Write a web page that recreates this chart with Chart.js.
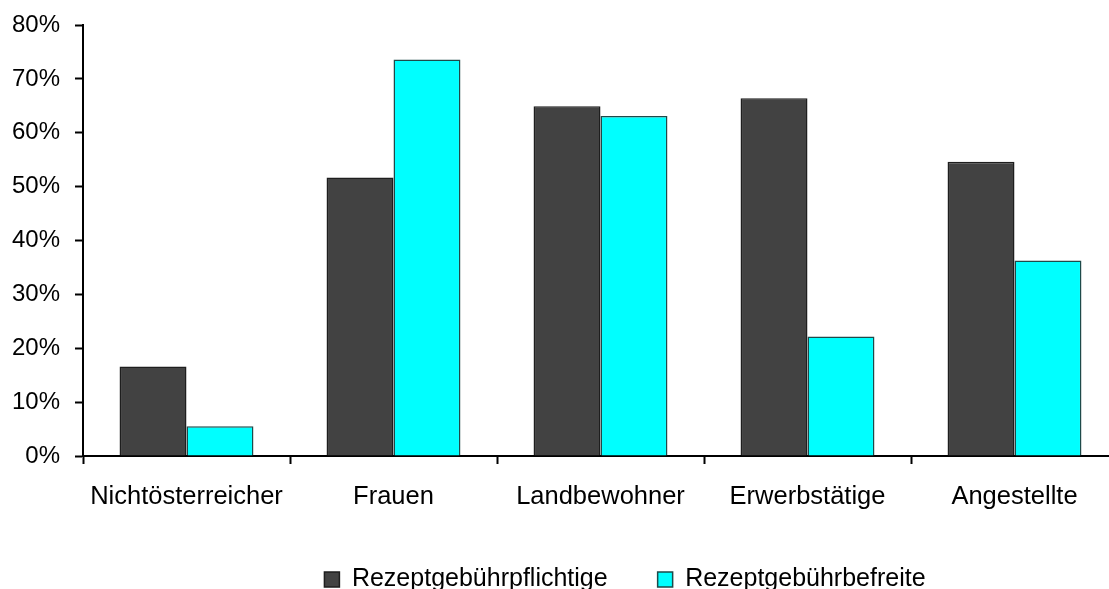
<!DOCTYPE html>
<html>
<head>
<meta charset="utf-8">
<script src="https://cdn.jsdelivr.net/npm/chart.js@4"></script>
<style>
    html, body { margin: 0; padding: 0; background: #ffffff; overflow: hidden; }
    #wrap { width: 1109px; height: 589px; overflow: hidden; position: relative; }
    canvas { display: block; }
</style>
</head>
<body>
<div id="wrap"><canvas id="chart" width="1120" height="599"></canvas></div>
<script>
// Chart data
const categories = ['Nichtösterreicher', 'Frauen', 'Landbewohner', 'Erwerbstätige', 'Angestellte'];
const seriesNames = ['Rezeptgebührpflichtige', 'Rezeptgebührbefreite'];
const pflichtige = [16.6, 51.7, 64.9, 66.4, 54.6];
const befreite = [5.5, 73.6, 63.1, 22.2, 36.3];
const yTicks = [0, 10, 20, 30, 40, 50, 60, 70, 80];

const darkGrey = '#424242';
const cyan = '#00ffff';
const fontFamily = '"Liberation Sans", Arial, sans-serif';

// legend sits a bit right of the canvas centre in the original
const legendShift = {
    id: 'legendShift',
    afterLayout(chart) {
        const lg = chart.legend;
        if (!lg) return;
        lg.left += 60;
        lg.right += 60;
        lg.top += 3;
        lg.bottom += 3;
    }
};

document.addEventListener('DOMContentLoaded', () => {
    const ctx = document.getElementById('chart');

    new Chart(ctx, {
        type: 'bar',
        data: {
            labels: categories,
            datasets: [{
                label: seriesNames[0],
                data: pflichtige,
                backgroundColor: darkGrey,
                borderColor: '#1e1e1e',
                borderWidth: 1.5
            }, {
                label: seriesNames[1],
                data: befreite,
                backgroundColor: cyan,
                borderColor: '#1e4a4a',
                borderWidth: 1.5
            }]
        },
        options: {
            responsive: false,
            animation: false,
            layout: {
                padding: { left: 12, right: 2, top: 25, bottom: 0 }
            },
            datasets: {
                bar: {
                    categoryPercentage: 0.647,
                    barPercentage: 1.0
                }
            },
            plugins: {
                legend: {
                    position: 'bottom',
                    labels: {
                        boxWidth: 15,
                        boxHeight: 15,
                        padding: 50,
                        color: '#000000',
                        font: { family: fontFamily, size: 25 }
                    }
                },
                tooltip: { enabled: false }
            },
            scales: {
                x: {
                    offset: true,
                    afterFit: axis => {
                        axis.paddingLeft = 0;
                        axis.paddingRight = 0;
                        axis.height = 58;
                    },
                    grid: {
                        display: true,
                        offset: true,
                        drawOnChartArea: false,
                        drawTicks: true,
                        tickLength: 8,
                        tickColor: '#000000',
                        tickWidth: 2
                    },
                    border: { display: true, color: '#000000', width: 2 },
                    ticks: {
                        color: '#000000',
                        padding: 18,
                        maxRotation: 0,
                        autoSkip: false,
                        font: { family: fontFamily, size: 25.5 }
                    }
                },
                y: {
                    min: 0,
                    max: 80,
                    afterBuildTicks: axis => {
                        axis.ticks = yTicks.map(v => ({ value: v }));
                    },
                    afterFit: axis => {
                        axis.width = 71;
                        axis.paddingTop = 0;
                        axis.paddingBottom = 0;
                    },
                    grid: {
                        display: true,
                        drawOnChartArea: false,
                        drawTicks: true,
                        tickLength: 8,
                        tickColor: '#000000',
                        tickWidth: 2
                    },
                    border: { display: true, color: '#000000', width: 2 },
                    ticks: {
                        color: '#000000',
                        padding: 15,
                        font: { family: fontFamily, size: 24 },
                        callback: value => value + '%'
                    }
                }
            }
        },
        plugins: [legendShift]
    });
});
</script>
</body>
</html>
